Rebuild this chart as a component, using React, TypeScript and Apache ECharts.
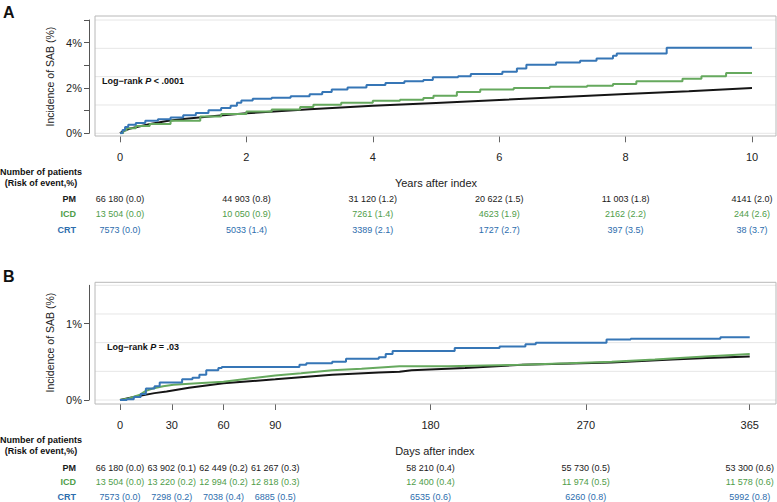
import React, { useEffect, useRef } from 'react';
import * as echarts from 'echarts';

// ---------- data ----------
const yearTicks = [0, 2, 4, 6, 8, 10];
const dayTicks = [0, 30, 60, 90, 180, 270, 365];

// Panel A: cumulative incidence (%) vs years
const crtA: [number, number][] = [
  [0, 0], [0.04, 0.15], [0.08, 0.28], [0.13, 0.38], [0.25, 0.45], [0.4, 0.55], [0.6, 0.62], [0.8, 0.7],
  [1.0, 0.8], [1.2, 0.9], [1.4, 1.02], [1.6, 1.12], [1.75, 1.22], [1.85, 1.35], [1.92, 1.45], [2.1, 1.52],
  [2.4, 1.57], [2.7, 1.63], [3.0, 1.72], [3.2, 1.82], [3.35, 1.93], [3.6, 2.02], [3.9, 2.13], [4.2, 2.22],
  [4.5, 2.3], [4.8, 2.35], [4.95, 2.47], [5.35, 2.52], [5.55, 2.62], [6.05, 2.72], [6.28, 2.86], [6.43, 3.02],
  [6.9, 3.12], [7.28, 3.2], [7.54, 3.3], [7.8, 3.42], [7.86, 3.52], [8.65, 3.78], [10, 3.78],
];
const icdA: [number, number][] = [
  [0, 0], [0.05, 0.12], [0.1, 0.22], [0.25, 0.32], [0.47, 0.41], [0.8, 0.55], [1.27, 0.74], [1.6, 0.85],
  [2.0, 0.96], [2.4, 1.05], [2.85, 1.16], [3.06, 1.26], [3.5, 1.35], [4.0, 1.44], [4.43, 1.48], [4.8, 1.56],
  [4.96, 1.66], [5.33, 1.82], [5.7, 1.93], [6.23, 2.0], [6.8, 2.05], [7.39, 2.1], [7.8, 2.18], [8.17, 2.3],
  [8.9, 2.41], [9.2, 2.52], [9.59, 2.66], [10, 2.66],
];
const pmA: [number, number][] = [
  [0, 0], [0.05, 0.1], [0.15, 0.2], [0.3, 0.3], [0.5, 0.42], [0.74, 0.54], [1.0, 0.63], [1.5, 0.76],
  [2.0, 0.88], [3.0, 1.06], [4.0, 1.22], [5.0, 1.34], [6.0, 1.47], [7.0, 1.6], [8.0, 1.73], [9.0, 1.86], [10, 2.0],
];

// Panel B: cumulative incidence (%) vs days
const crtB: [number, number][] = [
  [0, 0], [4, 0.01], [8, 0.04], [12, 0.08], [15, 0.15], [20, 0.18], [23, 0.23], [36, 0.27], [42, 0.29],
  [46, 0.33], [50, 0.39], [57, 0.42], [59, 0.43], [104, 0.46], [108, 0.48], [123, 0.5], [131, 0.54],
  [150, 0.56], [154, 0.6], [158, 0.64], [194, 0.68], [220, 0.7], [235, 0.73], [241, 0.75], [282, 0.79],
  [296, 0.8], [348, 0.82], [365, 0.82],
];
const icdB: [number, number][] = [
  [0, 0], [5, 0.02], [11.6, 0.07], [15, 0.12], [19, 0.15], [25, 0.18], [31, 0.2], [45, 0.22], [60, 0.24],
  [75, 0.28], [90, 0.32], [105, 0.35], [123, 0.39], [140, 0.41], [162, 0.44], [190, 0.44], [233, 0.46],
  [260, 0.48], [285, 0.5], [310, 0.53], [339, 0.57], [355, 0.59], [365, 0.6],
];
const pmB: [number, number][] = [
  [0, 0], [10, 0.05], [20, 0.09], [27, 0.11], [40, 0.16], [60, 0.22], [90, 0.27], [123, 0.33], [150, 0.36],
  [162, 0.37], [169, 0.39], [200, 0.42], [233, 0.46], [285, 0.49], [320, 0.53], [340, 0.55], [365, 0.57],
];

// Risk tables
const riskPmA = ['66 180 (0.0)', '44 903 (0.8)', '31 120 (1.2)', '20 622 (1.5)', '11 003 (1.8)', '4141 (2.0)'];
const riskIcdA = ['13 504 (0.0)', '10 050 (0.9)', '7261 (1.4)', '4623 (1.9)', '2162 (2.2)', '244 (2.6)'];
const riskCrtA = ['7573 (0.0)', '5033 (1.4)', '3389 (2.1)', '1727 (2.7)', '397 (3.5)', '38 (3.7)'];
const riskPmB = ['66 180 (0.0)', '63 902 (0.1)', '62 449 (0.2)', '61 267 (0.3)', '58 210 (0.4)', '55 730 (0.5)', '53 300 (0.6)'];
const riskIcdB = ['13 504 (0.0)', '13 220 (0.2)', '12 994 (0.2)', '12 818 (0.3)', '12 400 (0.4)', '11 974 (0.5)', '11 578 (0.6)'];
const riskCrtB = ['7573 (0.0)', '7298 (0.2)', '7038 (0.4)', '6885 (0.5)', '6535 (0.6)', '6260 (0.8)', '5992 (0.8)'];

const groups = ['PM', 'ICD', 'CRT'];
const gridLinesA = [0, 1.25, 2.5, 3.75, 5];
const gridLinesB = [0, 0.375, 0.75, 1.125, 1.5];

// ---------- styles ----------
const FONT = '"Liberation Sans", Arial, Helvetica, sans-serif';
const BLUE = '#3676b6';
const GREEN = '#66a95e';
const BLACK = '#151515';
const TXT = ['#1a1a1a', '#4f9d49', '#2d6dad'];

function rowAxis(gridIndex: number, max: number, ticks: number[], labels: string[], color: string, offset: number) {
  return {
    type: 'value', gridIndex, min: 0, max, position: 'bottom', offset,
    axisLine: { show: false, onZero: false }, axisTick: { show: false }, splitLine: { show: false },
    axisLabel: {
      customValues: ticks,
      formatter: (v: number) => labels[ticks.indexOf(v)] ?? '',
      color, fontSize: 9, fontFamily: FONT, margin: 0, verticalAlign: 'middle',
    },
  };
}

function mainX(gridIndex: number, max: number, ticks: number[], name: string, offset: number) {
  return {
    type: 'value', gridIndex, min: 0, max, position: 'bottom', offset,
    axisLine: { show: false, onZero: false },
    axisTick: { customValues: ticks, length: 6, lineStyle: { color: '#666' } },
    axisLabel: { customValues: ticks, fontSize: 11, color: '#222', fontFamily: FONT, margin: 21, verticalAlign: 'middle' },
    splitLine: { show: false },
    name, nameLocation: 'middle', nameGap: 47,
    nameTextStyle: { fontSize: 11, color: '#222', fontFamily: FONT, verticalAlign: 'middle' },
  };
}

function mainY(gridIndex: number, max: number, ticks: number[], labelTicks: number[]) {
  return {
    type: 'value', gridIndex, min: 0, max, offset: 31,
    axisLine: { show: true, onZero: false, lineStyle: { color: '#555' } },
    axisTick: { show: true, customValues: ticks, length: 5, lineStyle: { color: '#555' } },
    axisLabel: { customValues: labelTicks, formatter: (v: number) => v + '%', fontSize: 11, color: '#222', fontFamily: FONT, margin: 7 },
    splitLine: { show: false },
    name: 'Incidence of SAB (%)', nameLocation: 'middle', nameGap: 34,
    nameTextStyle: { fontSize: 10.5, color: '#222', fontFamily: FONT },
  };
}

function line(data: [number, number][], color: string, xi: number, yi: number, step: boolean) {
  return {
    type: 'line', data, xAxisIndex: xi, yAxisIndex: yi, step: step ? 'end' : false,
    symbol: 'none', lineStyle: { color, width: 2 }, z: 3, silent: true,
  };
}

export default function App() {
  const ref = useRef<HTMLDivElement>(null);
  useEffect(() => {
    document.body.style.margin = '0';
    const chart = echarts.init(ref.current!, null, { renderer: 'svg' });
    const option: any = {
      animation: false,
      textStyle: { fontFamily: FONT },
      grid: [
        { left: 120, top: 20, width: 632, height: 113.3 },
        { left: 120, top: 285.3, width: 632, height: 114.7 },
      ],
      xAxis: [
        mainX(0, 10, yearTicks, 'Years after index', 3),
        rowAxis(0, 10, yearTicks, riskPmA, TXT[0], 65.7),
        rowAxis(0, 10, yearTicks, riskIcdA, TXT[1], 81),
        rowAxis(0, 10, yearTicks, riskCrtA, TXT[2], 96.7),
        mainX(1, 365, dayTicks, 'Days after index', 4),
        rowAxis(1, 365, dayTicks, riskPmB, TXT[0], 68),
        rowAxis(1, 365, dayTicks, riskIcdB, TXT[1], 82.3),
        rowAxis(1, 365, dayTicks, riskCrtB, TXT[2], 97.3),
      ],
      yAxis: [
        mainY(0, 5, [0, 1, 2, 3, 4, 5], [0, 2, 4]),
        mainY(1, 1.5, [0, 1], [0, 1]),
      ],
      series: [
        line(pmA, BLACK, 0, 0, false),
        line(icdA, GREEN, 0, 0, true),
        line(crtA, BLUE, 0, 0, true),
        line(pmB, BLACK, 4, 1, false),
        line(icdB, GREEN, 4, 1, false),
        line(crtB, BLUE, 4, 1, true),
      ],
    };
    chart.setOption(option);

    const yPix = (axis: number, v: number) => chart.convertToPixel({ yAxisIndex: axis }, v) as number;
    const boxLeft = 95, boxRight = 776;
    const gridLine = (axis: number, v: number) => ({
      type: 'line', z: 0, silent: true,
      shape: { x1: boxLeft, y1: yPix(axis, v), x2: boxRight, y2: yPix(axis, v) },
      style: { stroke: '#e6e6e6', lineWidth: 1 },
    });
    const txt = (x: number, y: number, text: string, extra: any = {}) => ({
      type: 'text', x, y, z: 5, silent: true,
      style: { text, fontFamily: FONT, fontSize: 9, fontWeight: 'bold', fill: '#111', verticalAlign: 'middle', ...extra },
    });
    const rowLabels = (ys: number[]) => groups.map((g, i) => txt(76, ys[i], g, { align: 'right', fill: TXT[i] }));
    const logRank = (x: number, y: number, rest: string) => ({
      type: 'text', x, y, z: 5, silent: true,
      style: {
        text: '{b|Log\u2212rank }{i|P}{b| ' + rest + '}',
        verticalAlign: 'middle',
        rich: {
          b: { fontFamily: FONT, fontSize: 9, fontWeight: 'bold', fill: '#111' },
          i: { fontFamily: FONT, fontSize: 9, fontWeight: 'bold', fontStyle: 'italic', fill: '#111' },
        },
      },
    });

    chart.setOption({
      graphic: [
        { type: 'rect', z: 1, silent: true, shape: { x: boxLeft, y: 16, width: boxRight - boxLeft, height: 120 }, style: { fill: 'none', stroke: '#b8b8b8', lineWidth: 1 } },
        { type: 'rect', z: 1, silent: true, shape: { x: boxLeft, y: 282.3, width: boxRight - boxLeft, height: 121.7 }, style: { fill: 'none', stroke: '#b8b8b8', lineWidth: 1 } },
        ...gridLinesA.map((v) => gridLine(0, v)),
        ...gridLinesB.map((v) => gridLine(1, v)),
        txt(3, 12, 'A', { fontSize: 16 }),
        txt(3, 276, 'B', { fontSize: 16 }),
        logRank(102, 81, '< .0001'),
        logRank(107, 347, '= .03'),
        txt(41, 171.7, 'Number of patients', { align: 'center' }),
        txt(41, 182.7, '(Risk of event,%)', { align: 'center' }),
        txt(41, 440, 'Number of patients', { align: 'center' }),
        txt(41, 450.7, '(Risk of event,%)', { align: 'center' }),
        ...rowLabels([199, 214.3, 230]),
        ...rowLabels([468, 482.3, 497.3]),
      ],
    });
    return () => chart.dispose();
  }, []);
  return <div ref={ref} style={{ width: 777, height: 502 }} />;
}
